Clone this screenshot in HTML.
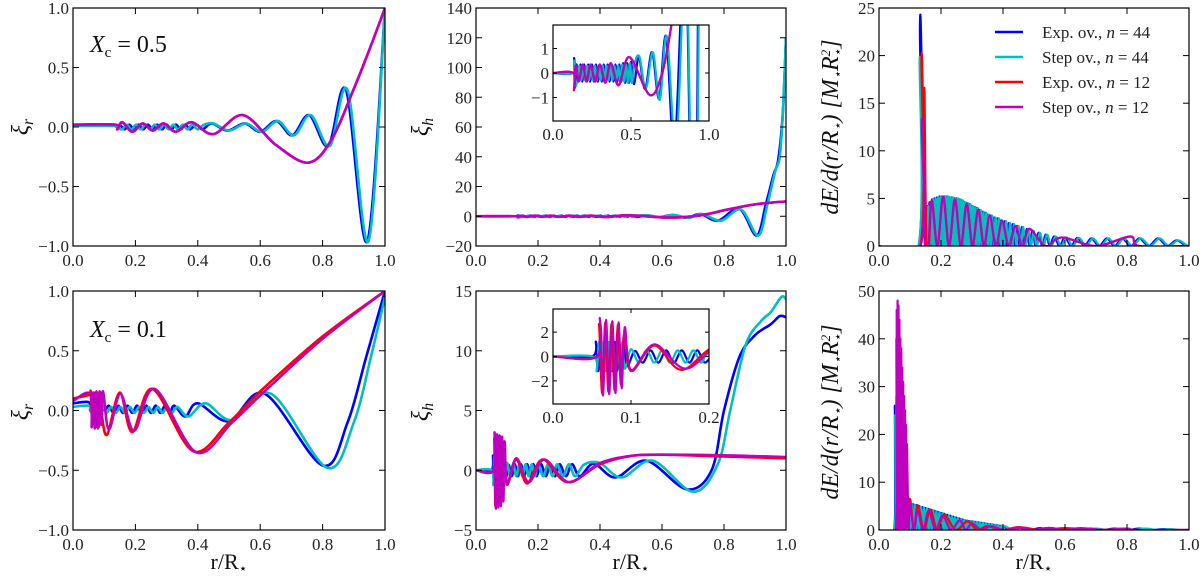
<!DOCTYPE html>
<html><head><meta charset="utf-8">
<style>
html,body{margin:0;padding:0;background:#fff;}
svg{display:block;font-family:"Liberation Serif","DejaVu Serif",serif;}
.tk{font-size:17px;fill:#222;}
.lab{font-size:24px;font-style:italic;fill:#111;}
</style></head>
<body>
<svg id="fig" width="1200" height="580" viewBox="0 0 1200 580" xmlns="http://www.w3.org/2000/svg">
<rect x="0" y="0" width="1200" height="580" fill="#fff"/>
<g id="root"></g>
</svg>
<script>
// ---------- data ----------
const xTicks = [0,0.2,0.4,0.6,0.8,1.0];
const xTickLabels = ["0.0","0.2","0.4","0.6","0.8","1.0"];
const yTicksXi = [-1,-0.5,0,0.5,1];
const yTickLabelsXi = ["\u22121.0","\u22120.5","0.0","0.5","1.0"];
const yTicksH1 = [-20,0,20,40,60,80,100,120,140];
const yTicksE1 = [0,5,10,15,20,25];
const yTicksH2 = [-5,0,5,10,15];
const yTicksE2 = [0,10,20,30,40,50];
const seriesNames = ["Exp. ov., n = 44","Step ov., n = 44","Exp. ov., n = 12","Step ov., n = 12"];

// top-left xi_r, Xc=0.5
const a_blue = [[0,0.015],[0.13,0.02],[0.14,0.0],[0.15,0.02],[0.165,-0.02],[0.18,0.02],[0.195,-0.02],[0.21,0.02],[0.225,-0.02],[0.24,0.02],[0.255,-0.02],[0.27,0.02],[0.285,-0.02],[0.3,0.02],[0.315,-0.02],[0.33,0.02],[0.345,-0.02],[0.36,0.02],[0.375,-0.02],[0.395,0.02],[0.415,-0.02],[0.445,0.03],[0.495,-0.03],[0.55,0.03],[0.6,-0.04],[0.652,0.05],[0.703,-0.07],[0.757,0.1],[0.818,-0.16],[0.875,0.31],[0.943,-0.96],[1,1]];
const a_cyan = [[0,0.01],[0.13,0.01],[0.142,0.0],[0.157,-0.02],[0.172,0.02],[0.187,-0.02],[0.202,0.02],[0.217,-0.02],[0.232,0.02],[0.247,-0.02],[0.262,0.02],[0.277,-0.02],[0.292,0.02],[0.307,-0.02],[0.322,0.02],[0.337,-0.02],[0.352,0.02],[0.367,-0.02],[0.382,0.02],[0.4,-0.02],[0.42,0.02],[0.45,0.03],[0.5,-0.03],[0.555,0.03],[0.605,-0.04],[0.657,0.05],[0.708,-0.07],[0.762,0.1],[0.823,-0.16],[0.88,0.31],[0.947,-0.96],[1,1]];
const a_red = [[0,0.02],[0.135,0.02],[0.142,-0.02],[0.158,0.04],[0.19,-0.04],[0.223,0.03],[0.256,-0.03],[0.29,0.03],[0.33,-0.04],[0.38,0.04],[0.45,-0.06],[0.545,0.1],[0.65,-0.15],[0.755,-0.3],[0.83,-0.1],[0.9,0.32],[0.95,0.65],[1,1]];
const a_mag = [[0,0.02],[0.135,0.02],[0.142,-0.02],[0.158,0.04],[0.19,-0.04],[0.223,0.03],[0.256,-0.03],[0.29,0.03],[0.33,-0.04],[0.38,0.04],[0.45,-0.06],[0.545,0.1],[0.65,-0.15],[0.755,-0.3],[0.83,-0.1],[0.9,0.32],[0.95,0.65],[1,1]];

// top-middle xi_h
const b_blue = [[0,0],[0.13,0],[0.135,0.6],[0.14,-0.6],[0.15,0.35],[0.1625,-0.35],[0.175,0.35],[0.1875,-0.35],[0.2,0.35],[0.2125,-0.35],[0.225,0.35],[0.2375,-0.35],[0.25,0.35],[0.2625,-0.35],[0.275,0.35],[0.2875,-0.35],[0.3,0.35],[0.3125,-0.35],[0.325,0.35],[0.3375,-0.35],[0.35,0.35],[0.3625,-0.35],[0.375,0.35],[0.3875,-0.35],[0.4,0.35],[0.4125,-0.35],[0.425,0.35],[0.4375,-0.35],[0.45,0.4],[0.4625,-0.4],[0.475,0.4],[0.4875,-0.4],[0.5,0.45],[0.52,-0.45],[0.55,0.65],[0.59,-0.65],[0.635,0.85],[0.68,-1.05],[0.725,1.5],[0.78,-3],[0.85,5],[0.905,-13],[0.935,8],[0.96,28],[0.975,38],[0.99,70],[1,120]];
const b_cyan = [[0,0],[0.13,0],[0.136,0.5],[0.142,-0.5],[0.156,-0.3],[0.1685,0.3],[0.181,-0.3],[0.1935,0.3],[0.206,-0.3],[0.2185,0.3],[0.231,-0.3],[0.2435,0.3],[0.256,-0.3],[0.2685,0.3],[0.281,-0.3],[0.2935,0.3],[0.306,-0.3],[0.3185,0.3],[0.331,-0.3],[0.3435,0.3],[0.356,-0.3],[0.3685,0.3],[0.381,-0.3],[0.3935,0.3],[0.406,-0.3],[0.4185,0.3],[0.431,-0.35],[0.4435,0.35],[0.456,-0.35],[0.4685,0.35],[0.481,-0.4],[0.4935,0.4],[0.506,-0.4],[0.525,0.45],[0.555,0.65],[0.595,-0.65],[0.64,0.85],[0.685,-1.1],[0.73,1.5],[0.79,-3],[0.855,4.5],[0.91,-13],[0.94,8],[0.965,30],[0.98,40],[0.99,70],[1,120]];
const b_red = [[0,0],[0.13,0],[0.134,-0.7],[0.145,0.3],[0.165,-0.35],[0.19,0.35],[0.215,-0.35],[0.24,0.35],[0.27,-0.35],[0.3,0.35],[0.335,-0.4],[0.37,0.4],[0.42,-0.5],[0.49,0.65],[0.62,-0.9],[0.7,0],[0.76,2],[0.8,4],[0.9,8],[1,10]];
const b_mag = [[0,0],[0.13,0],[0.135,-0.7],[0.146,0.3],[0.166,-0.35],[0.191,0.35],[0.216,-0.35],[0.241,0.35],[0.271,-0.35],[0.301,0.35],[0.336,-0.4],[0.371,0.4],[0.421,-0.5],[0.49,0.65],[0.62,-0.9],[0.7,0],[0.76,2],[0.8,4],[0.9,8],[1,10]];

// top-right dE: spike points + oscillation peaks
const c_blue_spike = [[0,0],[0.128,0],[0.132,23],[0.137,20],[0.142,8],[0.148,0.3]];
const c_blue_px = [0.155,0.163,0.171,0.179,0.187,0.195,0.203,0.211,0.219,0.227,0.235,0.243,0.251,0.259,0.267,0.275,0.283,0.291,0.299,0.307,0.315,0.324,0.333,0.342,0.351,0.361,0.372,0.383,0.394,0.406,0.419,0.432,0.446,0.461,0.477,0.495,0.515,0.538,0.565,0.6,0.64,0.685,0.735,0.785,0.84,0.9,0.96];
const c_blue_py = [4.2,4.6,4.9,5.0,5.1,5.2,5.2,5.2,5.2,5.1,5.1,5.0,5.0,4.9,4.8,4.6,4.5,4.4,4.2,4.1,4.0,3.8,3.6,3.5,3.3,3.2,3.0,2.9,2.7,2.6,2.4,2.3,2.1,2.0,1.8,1.6,1.4,1.2,1.0,0.9,0.85,0.8,0.8,0.8,0.8,0.8,0.6];
const c_cyan_spike = [[0,0],[0.127,0],[0.131,19.5],[0.136,12],[0.142,5],[0.148,0.3]];
const c_cyan_px = [0.159,0.167,0.175,0.183,0.191,0.199,0.207,0.215,0.223,0.231,0.239,0.247,0.255,0.263,0.271,0.279,0.287,0.295,0.303,0.311,0.319,0.328,0.337,0.346,0.355,0.365,0.376,0.387,0.398,0.41,0.423,0.436,0.45,0.465,0.481,0.499,0.519,0.542,0.57,0.605,0.645,0.69,0.74,0.79,0.845,0.905,0.965];
const c_cyan_py = [4.2,4.6,4.9,5.0,5.1,5.2,5.2,5.2,5.2,5.1,5.1,5.0,5.0,4.9,4.8,4.6,4.5,4.4,4.2,4.1,4.0,3.8,3.6,3.5,3.3,3.2,3.0,2.9,2.7,2.6,2.4,2.3,2.1,2.0,1.8,1.6,1.4,1.2,1.0,0.9,0.85,0.8,0.8,0.8,0.8,0.8,0.6];
const c_red_spike = [[0,0],[0.133,0],[0.137,19.8],[0.143,14],[0.147,16],[0.152,0.3]];
const c_red_px = [0.17,0.207,0.245,0.283,0.32,0.357,0.397,0.44,0.485,0.59,0.81];
const c_red_py = [4.8,5.2,4.9,4.4,3.8,3.2,2.6,2.1,1.8,0.9,1.0];
const c_mag_spike = [[0,0],[0.134,0],[0.138,13],[0.143,9],[0.148,0.3]];
const c_mag_px = [0.17,0.207,0.245,0.283,0.32,0.357,0.397,0.44,0.485,0.59,0.81];
const c_mag_py = [4.8,5.2,4.9,4.4,3.8,3.2,2.6,2.1,1.8,0.9,1.0];

// bottom-left xi_r, Xc=0.1
const d_blue = [[0,0.06],[0.05,0.07],[0.055,0.0],[0.06,0.07],[0.065,-0.01],[0.07,0.06],[0.075,-0.01],[0.08,0.06],[0.085,-0.01],[0.09,0.05],[0.1,0.0],[0.115,0.04],[0.13,-0.02],[0.145,0.04],[0.16,-0.02],[0.175,0.04],[0.19,-0.02],[0.205,0.04],[0.22,-0.02],[0.235,0.04],[0.25,-0.02],[0.265,0.04],[0.28,-0.02],[0.295,0.04],[0.31,-0.02],[0.325,0.04],[0.36,-0.05],[0.4,0.06],[0.5,-0.09],[0.615,0.14],[0.8,-0.46],[0.88,-0.1],[0.94,0.45],[1,1]];
const d_cyan = [[0,0.03],[0.05,0.04],[0.057,-0.01],[0.062,0.05],[0.067,-0.02],[0.072,0.05],[0.077,-0.02],[0.082,0.05],[0.087,-0.02],[0.095,0.04],[0.107,-0.02],[0.122,0.03],[0.137,-0.02],[0.152,0.03],[0.167,-0.02],[0.182,0.03],[0.197,-0.02],[0.212,0.03],[0.227,-0.02],[0.242,0.03],[0.257,-0.02],[0.272,0.03],[0.287,-0.02],[0.302,0.03],[0.317,-0.02],[0.335,0.03],[0.37,-0.05],[0.425,0.06],[0.51,-0.08],[0.635,0.14],[0.815,-0.48],[0.9,-0.1],[0.955,0.45],[1,0.95]];
const d_red = [[0,0.1],[0.05,0.13],[0.057,0.15],[0.062,-0.12],[0.067,0.15],[0.072,-0.14],[0.077,0.15],[0.082,-0.14],[0.087,0.15],[0.093,-0.05],[0.11,-0.2],[0.15,0.15],[0.19,-0.18],[0.255,0.18],[0.385,-0.34],[0.5,-0.1],[0.6,0.16],[0.8,0.62],[1,1]];
const d_mag = [[0,0.08],[0.055,0.14],[0.06,-0.14],[0.065,0.15],[0.07,-0.15],[0.075,0.16],[0.08,-0.15],[0.085,0.16],[0.09,-0.12],[0.096,0.16],[0.115,-0.16],[0.152,0.14],[0.196,-0.17],[0.262,0.18],[0.395,-0.35],[0.51,-0.1],[0.61,0.15],[0.8,0.6],[1,1]];

// bottom-middle xi_h
const e_blue = [[0,0],[0.05,0],[0.055,1.2],[0.058,-1.2],[0.061,1.2],[0.064,-1.2],[0.067,1.2],[0.07,-1.2],[0.073,1.2],[0.076,-1.2],[0.079,1.2],[0.082,-1.2],[0.085,1.2],[0.088,-1.2],[0.091,1.0],[0.095,-0.8],[0.105,0.45],[0.115,-0.5],[0.125,0.5],[0.135,-0.5],[0.145,0.5],[0.155,-0.5],[0.165,0.5],[0.175,-0.5],[0.185,0.5],[0.195,-0.5],[0.21,0.5],[0.225,-0.5],[0.24,0.5],[0.255,-0.5],[0.27,0.5],[0.29,-0.5],[0.31,0.5],[0.335,-0.5],[0.38,0.55],[0.45,-0.6],[0.55,0.8],[0.68,-1.6],[0.76,0],[0.8,5],[0.85,9.5],[0.9,11.3],[0.95,12.2],[0.98,12.9],[1,12.8]];
const e_cyan = [[0,0],[0.051,0],[0.056,-1.2],[0.059,1.2],[0.062,-1.2],[0.065,1.2],[0.068,-1.2],[0.071,1.2],[0.074,-1.2],[0.077,1.2],[0.08,-1.2],[0.083,1.2],[0.086,-1.2],[0.089,1.2],[0.092,-1.0],[0.1,0.6],[0.11,-0.5],[0.12,0.5],[0.13,-0.5],[0.14,0.5],[0.15,-0.5],[0.16,0.5],[0.17,-0.5],[0.18,0.5],[0.19,-0.5],[0.2,0.5],[0.217,-0.5],[0.232,0.5],[0.247,-0.5],[0.262,0.5],[0.28,-0.5],[0.3,0.5],[0.32,-0.5],[0.35,0.5],[0.4,0.6],[0.47,-0.6],[0.57,0.8],[0.7,-1.8],[0.78,0.5],[0.82,5],[0.87,10.5],[0.92,12.5],[0.95,13.2],[0.985,14.5],[1,14.3]];
const e_red = [[0,0],[0.056,0],[0.059,2.6],[0.063,-3.0],[0.067,2.8],[0.071,-2.9],[0.075,2.7],[0.079,-2.8],[0.083,2.6],[0.087,-2.3],[0.091,1.8],[0.1,-1.2],[0.13,0.9],[0.165,-1.1],[0.215,0.9],[0.295,-1.0],[0.4,0.5],[0.5,1.2],[0.6,1.3],[0.8,1.15],[1,1.0]];
const e_mag = [[0,0],[0.057,0],[0.06,3.1],[0.064,-3.2],[0.068,3.0],[0.072,-3.1],[0.076,2.9],[0.08,-3.0],[0.084,2.8],[0.088,-2.6],[0.092,2.4],[0.1,-1.1],[0.13,1.0],[0.17,-1.0],[0.22,0.9],[0.3,-1.0],[0.4,0.6],[0.5,1.2],[0.6,1.3],[0.8,1.25],[1,1.1]];

// bottom-right dE
const f_blue_spike = [[0,0],[0.049,0],[0.051,26]];
const f_blue_px = [0.054,0.058,0.062,0.066,0.07,0.074,0.078,0.082,0.086,0.09,0.094,0.1,0.11,0.12,0.13,0.14,0.15,0.16,0.17,0.18,0.19,0.2,0.21,0.22,0.23,0.24,0.25,0.26,0.27,0.28,0.29,0.3,0.31,0.32,0.33,0.34,0.35,0.36,0.37,0.38,0.39,0.4,0.45,0.52,0.6,0.68,0.76,0.84,0.92];
const f_blue_py = [26,30,32,30,28,25,22,18,14,10,7,5.6,5.4,5.2,5.0,4.8,4.6,4.4,4.2,4.0,3.8,3.6,3.4,3.2,3.0,2.8,2.6,2.4,2.2,2.0,1.9,1.8,1.7,1.6,1.5,1.4,1.3,1.2,1.1,1.0,0.9,0.8,0.5,0.4,0.3,0.3,0.3,0.3,0.2];
const f_cyan_spike = [[0,0],[0.05,0],[0.052,24]];
const f_cyan_px = [0.056,0.06,0.064,0.068,0.072,0.076,0.08,0.084,0.088,0.092,0.096,0.105,0.115,0.125,0.135,0.145,0.155,0.165,0.175,0.185,0.195,0.205,0.215,0.225,0.235,0.245,0.255,0.265,0.275,0.285,0.295,0.305,0.315,0.325,0.335,0.345,0.355,0.365,0.375,0.385,0.395,0.405,0.46,0.54,0.62,0.7,0.78,0.86,0.94];
const f_cyan_py = [28,31,30,28,26,23,20,16,12,9,6.5,5.5,5.3,5.1,4.9,4.7,4.5,4.3,4.1,3.9,3.7,3.5,3.3,3.1,2.9,2.7,2.5,2.3,2.1,2.0,1.9,1.8,1.7,1.6,1.5,1.4,1.3,1.2,1.1,1.0,0.9,0.8,0.5,0.4,0.3,0.3,0.3,0.3,0.2];
const f_red_spike = [[0,0],[0.054,0],[0.056,40]];
const f_red_px = [0.06,0.064,0.068,0.072,0.076,0.08,0.084,0.088,0.1,0.125,0.165,0.21,0.285,0.35,0.45,0.6,0.8];
const f_red_py = [44,40,36,32,28,24,20,16,6.5,5.2,4.3,3.2,1.8,0.8,0.6,0.4,0.3];
const f_mag_spike = [[0,0],[0.055,0],[0.057,46]];
const f_mag_px = [0.06,0.063,0.066,0.069,0.072,0.075,0.078,0.081,0.084,0.087,0.09,0.1,0.125,0.16,0.205,0.26,0.3,0.36,0.45,0.55,0.65,0.8];
const f_mag_py = [48,47,44,40,38,34,31,28,25,22,18,5.5,4.0,4.0,3.0,2.0,1.4,0.8,0.5,0.45,0.4,0.3];

// ---------- rendering ----------
const NS = "http://www.w3.org/2000/svg";
const root = document.getElementById("root");
const COLORS = ["#0000ff","#00bfbf","#ff0000","#bf00bf"];
function el(tag, attrs, parent){ const e=document.createElementNS(NS,tag); for(const k in attrs) e.setAttribute(k,attrs[k]); (parent||root).appendChild(e); return e; }
function scale(d0,d1,r0,r1){ return v => r0 + (v-d0)/(d1-d0)*(r1-r0); }
function crPath(pts){
  let d = "M"+pts[0][0].toFixed(2)+","+pts[0][1].toFixed(2);
  for(let i=0;i<pts.length-1;i++){
    const p0=pts[i-1]||pts[i], p1=pts[i], p2=pts[i+1], p3=pts[i+2]||pts[i+1];
    const c1x=p1[0]+(p2[0]-p0[0])/6, c1y=p1[1]+(p2[1]-p0[1])/6;
    const c2x=p2[0]-(p3[0]-p1[0])/6, c2y=p2[1]-(p3[1]-p1[1])/6;
    d += "C"+c1x.toFixed(2)+","+c1y.toFixed(2)+" "+c2x.toFixed(2)+","+c2y.toFixed(2)+" "+p2[0].toFixed(2)+","+p2[1].toFixed(2);
  }
  return d;
}
function oscPoints(spike, px, py){
  const pts = spike.slice();
  let prevX = spike[spike.length-1][0];
  for(let i=0;i<px.length;i++){
    pts.push([(prevX+px[i])/2, 0]);
    pts.push([px[i], py[i]]);
    prevX = px[i];
  }
  pts.push([Math.min(1,prevX+0.03), 0]);
  pts.push([1,0]);
  return pts;
}
let clipId = 0;
function panel(o){
  const g = el("g",{});
  
  
  const sx = scale(o.xd[0],o.xd[1],o.x0,o.x1), sy = scale(o.yd[0],o.yd[1],o.y1,o.y0);
  if(o.inset) el("rect",{x:o.x0,y:o.y0,width:o.x1-o.x0,height:o.y1-o.y0,fill:"#fff"},g);
  const cid = "clip"+(clipId++);
  const cp = el("clipPath",{id:cid},g);
  el("rect",{x:o.x0,y:o.y0,width:o.x1-o.x0,height:o.y1-o.y0},cp);
  const lines = el("g",{"clip-path":"url(#"+cid+")"},g);
  o.series.forEach((s,i)=>{
    const p = el("path",{d:crPath(s.map(q=>[sx(q[0]),sy(q[1])])),fill:"none",stroke:COLORS[i],"stroke-width":o.lw||2.6,"stroke-linejoin":"round"},lines);
    
    
  });
  const tl = o.inset?4:6;
  const ticks = el("g",{stroke:"#000","stroke-width":1},g);
  o.xt.forEach((v,i)=>{
    const x=sx(v);
    el("line",{x1:x,x2:x,y1:o.y1,y2:o.y1-tl},ticks);
    el("line",{x1:x,x2:x,y1:o.y0,y2:o.y0+tl},ticks);
    const t=el("text",{x:x,y:o.y1+(o.inset?19:20),"text-anchor":"middle",class:"tk"},g);
    t.textContent=o.xl[i];
    
    
  });
  o.yt.forEach((v,i)=>{
    const y=sy(v);
    el("line",{x1:o.x0,x2:o.x0+tl,y1:y,y2:y},ticks);
    el("line",{x1:o.x1,x2:o.x1-tl,y1:y,y2:y},ticks);
    const t=el("text",{x:o.x0-4,y:y+6,"text-anchor":"end",class:"tk"},g);
    t.textContent=o.yl[i];
    
    
  });
  el("rect",{x:o.x0,y:o.y0,width:o.x1-o.x0,height:o.y1-o.y0,fill:"none",stroke:"#000","stroke-width":1.2},g);
  return g;
}
const fmtInt = a => a.map(v => v<0 ? "\u2212"+(-v) : ""+v);
const T=[8,246], B=[291,530];
const C1=[73,385], C2=[476,786], C3=[879,1189];

panel({name:"panel-xi-r-top",x0:C1[0],x1:C1[1],y0:T[0],y1:T[1],xd:[0,1],yd:[-1,1],xt:xTicks,xl:xTickLabels,yt:yTicksXi,yl:yTickLabelsXi,series:[a_blue,a_cyan,a_red,a_mag]});
panel({name:"panel-xi-h-top",x0:C2[0],x1:C2[1],y0:T[0],y1:T[1],xd:[0,1],yd:[-20,140],xt:xTicks,xl:xTickLabels,yt:yTicksH1,yl:fmtInt(yTicksH1),series:[b_blue,b_cyan,b_red,b_mag]});
panel({name:"inset-xi-h-top",inset:true,lw:2.2,x0:553,x1:709,y0:25,y1:121,xd:[0,1],yd:[-1.96,1.96],xt:[0,0.5,1],xl:["0.0","0.5","1.0"],yt:[-1,0,1],yl:["\u22121","0","1"],series:[b_blue,b_cyan,b_red,b_mag]});
panel({name:"panel-energy-top",x0:C3[0],x1:C3[1],y0:T[0],y1:T[1],xd:[0,1],yd:[0,25],xt:xTicks,xl:xTickLabels,yt:yTicksE1,yl:fmtInt(yTicksE1),lw:2.2,series:[oscPoints(c_blue_spike,c_blue_px,c_blue_py),oscPoints(c_cyan_spike,c_cyan_px,c_cyan_py),oscPoints(c_red_spike,c_red_px,c_red_py),oscPoints(c_mag_spike,c_mag_px,c_mag_py)]});
panel({name:"panel-xi-r-bottom",x0:C1[0],x1:C1[1],y0:B[0],y1:B[1],xd:[0,1],yd:[-1,1],xt:xTicks,xl:xTickLabels,yt:yTicksXi,yl:yTickLabelsXi,series:[d_blue,d_cyan,d_red,d_mag]});
panel({name:"panel-xi-h-bottom",x0:C2[0],x1:C2[1],y0:B[0],y1:B[1],xd:[0,1],yd:[-5,15],xt:xTicks,xl:xTickLabels,yt:yTicksH2,yl:fmtInt(yTicksH2),series:[e_blue,e_cyan,e_red,e_mag]});
panel({name:"inset-xi-h-bottom",inset:true,lw:2.2,x0:553,x1:709,y0:309,y1:404,xd:[0,0.2],yd:[-3.9,3.9],xt:[0,0.1,0.2],xl:["0.0","0.1","0.2"],yt:[-2,0,2],yl:["\u22122","0","2"],series:[e_blue,e_cyan,e_red,e_mag]});
panel({name:"panel-energy-bottom",x0:C3[0],x1:C3[1],y0:B[0],y1:B[1],xd:[0,1],yd:[0,50],xt:xTicks,xl:xTickLabels,yt:yTicksE2,yl:fmtInt(yTicksE2),lw:2.2,series:[oscPoints(f_blue_spike,f_blue_px,f_blue_py),oscPoints(f_cyan_spike,f_cyan_px,f_cyan_py),oscPoints(f_red_spike,f_red_px,f_red_py),oscPoints(f_mag_spike,f_mag_px,f_mag_py)]});

// legend
const lg = el("g",{});


seriesNames.forEach((n,i)=>{
  const y = 32 + i*25;
  const ln = el("line",{x1:995,x2:1023,y1:y,y2:y,stroke:COLORS[i],"stroke-width":2.6},lg);
  
  
  const t = el("text",{x:1042,y:y+6,class:"tk"},lg);
  const parts = n.split("n = ");
  t.appendChild(document.createTextNode(parts[0]));
  const ts = el("tspan",{"font-style":"italic"},t); ts.textContent="n";
  t.appendChild(document.createTextNode(" = "+parts[1]));
  
  
});
</script>
<svg width="0" height="0"></svg>
<script>
(function(){
const svg=document.getElementById("fig");
const NS="http://www.w3.org/2000/svg";
function txt(x,y,html,attrs,name){const t=document.createElementNS(NS,"text");t.setAttribute("x",x);t.setAttribute("y",y);for(const k in attrs)t.setAttribute(k,attrs[k]);t.innerHTML=html;


svg.appendChild(t);return t;}
txt(90,52,'X<tspan font-style="normal" font-size="15" dy="5">c</tspan><tspan font-style="normal" dy="-5"> = 0.5</tspan>',{class:"lab","font-size":"25"},"annotation-xc-top");
txt(90,337,'X<tspan font-style="normal" font-size="15" dy="5">c</tspan><tspan font-style="normal" dy="-5"> = 0.1</tspan>',{class:"lab","font-size":"25"},"annotation-xc-bottom");
[[28,127,"r"],[28,412,"r"],[428,127,"h"],[428,412,"h"]].forEach((a,i)=>{
  txt(a[0],a[1],'ξ<tspan font-size="16" dy="5">'+a[2]+'</tspan>',{class:"lab",transform:"rotate(-90 "+a[0]+" "+a[1]+")","text-anchor":"middle"},"y-axis-title");
});
[[838,127],[838,412]].forEach(a=>{
  txt(a[0],a[1],'dE/d(r/R<tspan font-size="13" dy="4">⋆</tspan><tspan dy="-4">) [M</tspan><tspan font-size="13" dy="4">⋆</tspan><tspan dy="-4">R</tspan><tspan font-size="13" dy="-8">2</tspan><tspan font-size="13" dx="-7" dy="12">⋆</tspan><tspan dy="-4">]</tspan>',{class:"lab","font-size":"21",transform:"rotate(-90 "+a[0]+" "+a[1]+")","text-anchor":"middle"},"y-axis-title-energy");
});
[229,631,1034].forEach(x=>{
  txt(x,569,'r/R<tspan font-size="14" dy="4">⋆</tspan>',{"font-size":"22","text-anchor":"middle",fill:"#111"},"x-axis-title");
});
})();
</script>
</body></html>
